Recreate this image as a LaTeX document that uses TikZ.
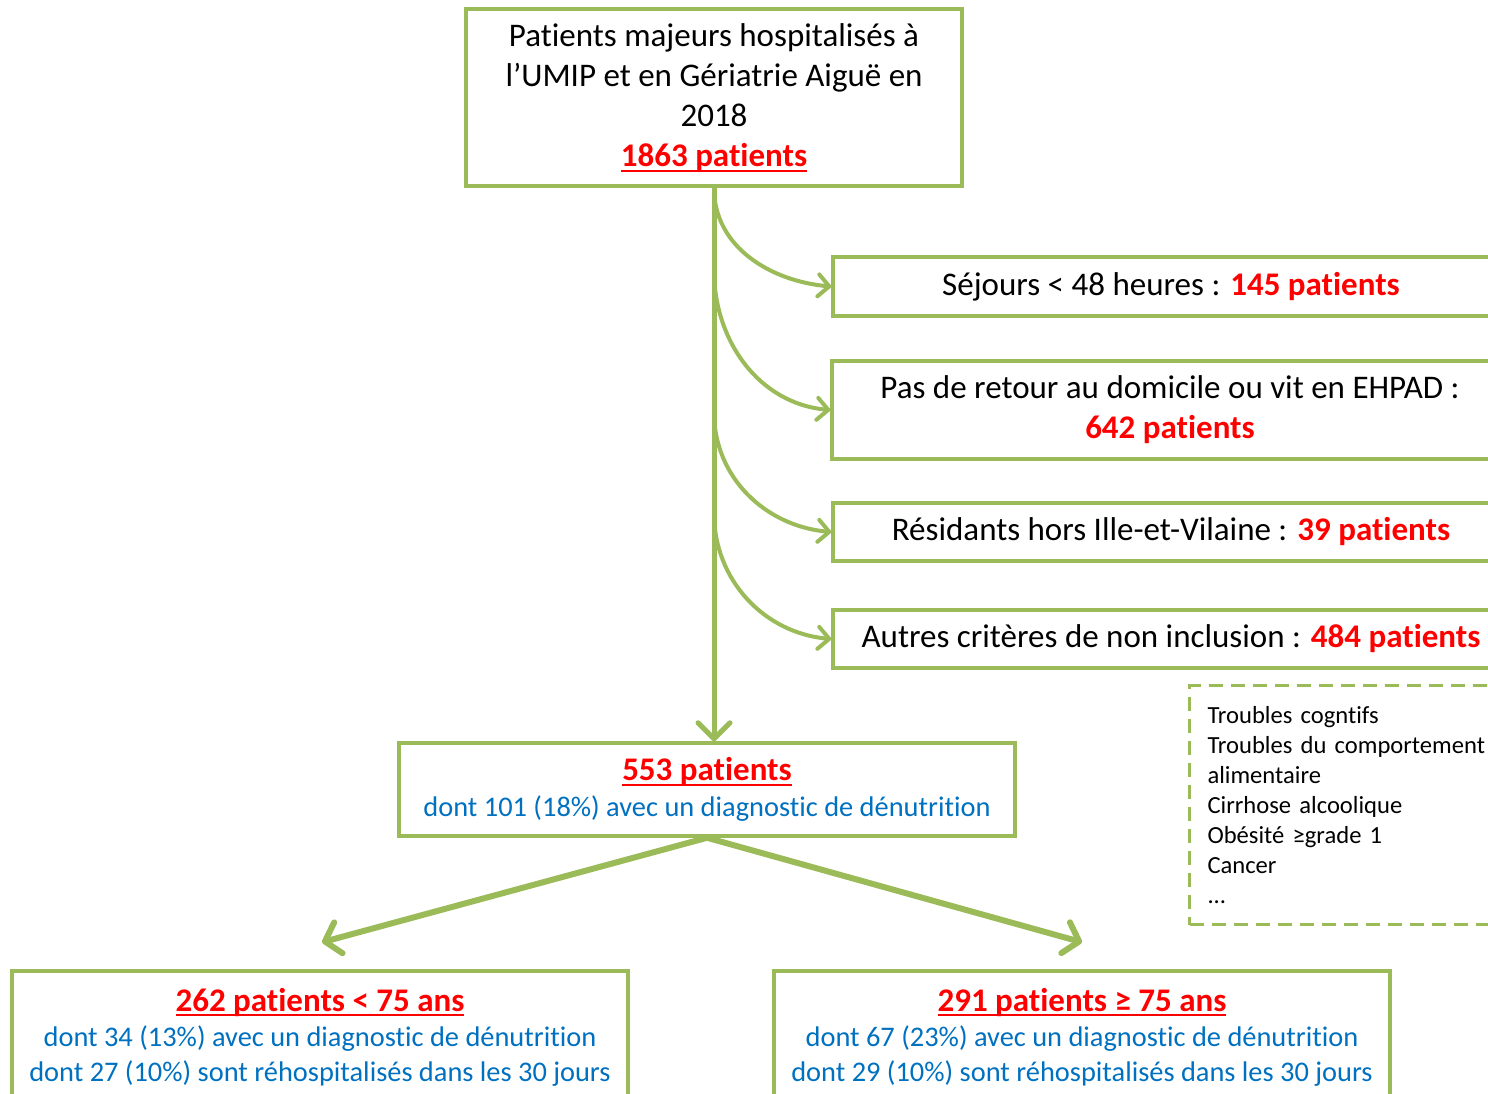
\documentclass[tikz,border=0pt]{standalone}
\usepackage{fontspec}
\setmainfont{Carlito}[RawFeature=-liga]
\usetikzlibrary{arrows.meta,positioning}
\definecolor{boxgreen}{HTML}{9BBB59}
\definecolor{numred}{HTML}{FF0000}
\definecolor{infoblue}{HTML}{0070C0}
\newcommand{\rednum}[1]{\textcolor{numred}{\textbf{#1}}}
\newcommand{\redul}[1]{\textcolor{numred}{\bfseries\setbox0\hbox{#1}%
  \rlap{\rule[-2.6pt]{\wd0}{1pt}}\box0}}
\newcommand{\redtitle}[1]{{\fontsize{16.5}{20}\selectfont\redul{#1}}}
\newcommand{\bluetxt}[1]{\textcolor{infoblue}{#1}}

\begin{document}
\begin{tikzpicture}[x=0.5pt, y=-0.5pt,
  box/.style={draw=boxgreen, line width=1.75pt, align=center, inner sep=0pt},
  bigtext/.style={font=\fontsize{16.5}{20}\selectfont},
  midtext/.style={font=\fontsize{14.2}{18}\selectfont},
  lowtext/.style={font=\fontsize{14.2}{17.5}\selectfont},
  listbox/.style={draw=boxgreen, line width=1.5pt, dash pattern=on 7pt off 4pt,
    align=left, text width=145pt, inner xsep=9pt, inner ysep=0pt,
    font=\fontsize{12.3}{15}\selectfont},
  trunk/.style={draw=boxgreen, line width=2.5pt, line cap=round,
    -{Straight Barb[length=8pt,width=16pt,round]}},
  side/.style={draw=boxgreen, line width=2pt, line cap=round,
    -{Straight Barb[length=5.5pt,width=11pt,round]}},
  split/.style={draw=boxgreen, line width=3pt, line cap=round,
    -{Straight Barb[length=7pt,width=16pt,round]}},
]
  \useasboundingbox (0,0) rectangle (1488,1093);

  % Population de depart
  \node[box, bigtext, minimum width=248pt, minimum height=88.5pt] (pop) at (714,97.5)
    {Patients majeurs hospitalisés à\\ l’UMIP et en Gériatrie Aiguë en\\ 2018\\ \redul{1863 patients}};

  % Exclusions
  \node[box, bigtext, minimum width=338pt, minimum height=29.5pt] (ex1) at (1171,286.5)
    {Séjours < 48 heures : \rednum{145 patients}};
  \node[box, bigtext, minimum width=338pt, minimum height=49pt] (ex2) at (1170,410)
    {Pas de retour au domicile ou vit en EHPAD :\\ \rednum{642 patients}};
  \node[box, bigtext, minimum width=338pt, minimum height=29pt] (ex3) at (1171,532)
    {Résidants hors Ille-et-Vilaine : \rednum{39 patients}};
  \node[box, bigtext, minimum width=338pt, minimum height=29pt] (ex4) at (1171,639)
    {Autres critères de non inclusion : \rednum{484 patients}};
  \node[listbox, minimum height=119.5pt, anchor=north west] (crit) at (1188,684)
    {Troubles cogntifs\\ Troubles du comportement\\ alimentaire\\ Cirrhose alcoolique\\
     Obésité ≥grade 1\\ Cancer\\ ...};

  % Patients inclus
  \node[box, midtext, minimum width=308pt, minimum height=46.5pt] (incl) at (707,789.5)
    {\redtitle{553 patients}\\ \bluetxt{dont 101 (18\%) avec un diagnostic de dénutrition}};

  % Sous-groupes
  \node[box, lowtext, minimum width=308pt, minimum height=66pt] (young) at (320,1037)
    {\redtitle{262 patients < 75 ans}\\
     \bluetxt{dont 34 (13\%) avec un diagnostic de dénutrition}\\
     \bluetxt{dont 27 (10\%) sont réhospitalisés dans les 30 jours}};
  \node[box, lowtext, minimum width=308pt, minimum height=66pt] (old) at (1082,1037)
    {\redtitle{291 patients ≥ 75 ans}\\
     \bluetxt{dont 67 (23\%) avec un diagnostic de dénutrition}\\
     \bluetxt{dont 29 (10\%) sont réhospitalisés dans les 30 jours}};

  % Points de depart des fleches courbes
  \coordinate (b2) at (714,270);
  \coordinate (b3) at (714,412);
  \coordinate (b4) at (714,513);

  \draw[trunk] (pop.south) -- (pop.south |- incl.north);
  \path
    (pop.south) edge[side, out=-90, in=175] (ex1.west)
    (b2)        edge[side, out=-90, in=175] (ex2.west)
    (b3)        edge[side, out=-90, in=175] (ex3.west)
    (b4)        edge[side, out=-90, in=175] (ex4.west);
  \draw[split] (incl.south) -- ([xshift=1pt, yshift=13.5pt]young.north);
  \draw[split] (incl.south) -- ([yshift=13.5pt]old.north);
\end{tikzpicture}
\end{document}
